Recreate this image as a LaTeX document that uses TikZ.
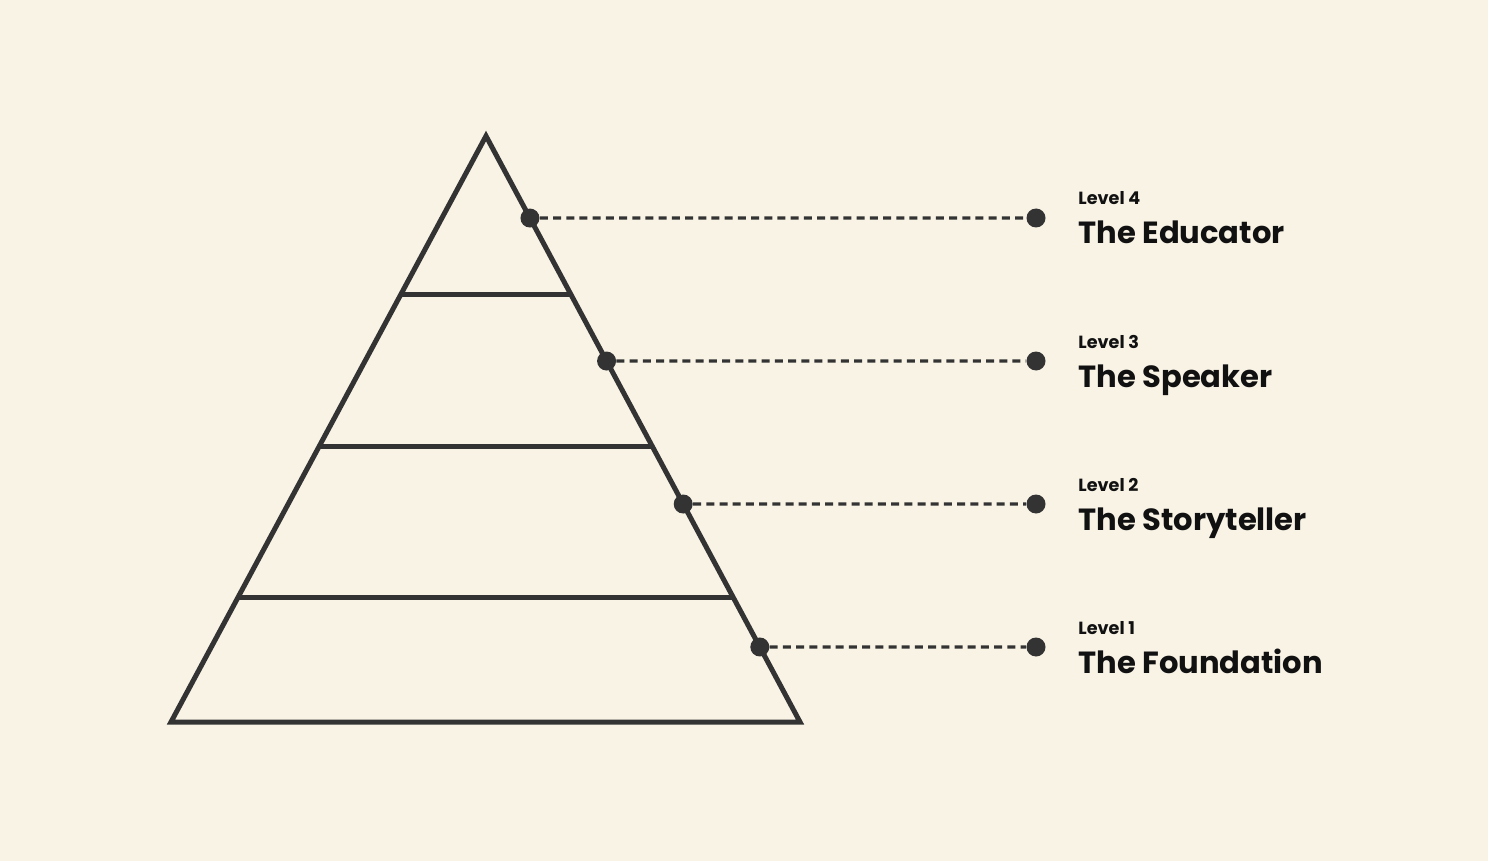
\documentclass[tikz,border=0pt]{standalone}
\usepackage{fontspec}
\setmainfont{Poppins}
\usepackage{tikz}
\usetikzlibrary{calc}
\definecolor{paper}{HTML}{F9F3E6}
\definecolor{ink}{HTML}{333333}
\definecolor{textdark}{HTML}{111111}

\begin{document}
\begin{tikzpicture}[
  x=0.5pt,y=-0.5pt,
  dot/.style={circle,fill=ink,inner sep=0pt,minimum size=9.5pt},
  leader/.style={ink,line width=1.6pt,dash pattern=on 4pt off 2.6pt},
  edge/.style={ink,line width=2.5pt},
  lvl/.style={anchor=base west,inner sep=0pt,text=textdark,font=\fontsize{8.8}{10}\selectfont\bfseries},
  ttl/.style={anchor=base west,inner sep=0pt,text=textdark,font=\fontsize{15.3}{18}\selectfont\bfseries}
]
\useasboundingbox[fill=paper] (0,0) rectangle (1488,861);
% pyramid outline
\coordinate (apex) at (486,136);
\coordinate (bl) at (171,722);
\coordinate (br) at (800,722);
\draw[edge,line join=miter] (apex) -- (bl) -- (br) -- cycle;
% tier lines
\draw[edge] ($(apex)!0.2713!(bl)$) -- ($(apex)!0.2713!(br)$);
\draw[edge] ($(apex)!0.5290!(bl)$) -- ($(apex)!0.5290!(br)$);
\draw[edge] ($(apex)!0.7867!(bl)$) -- ($(apex)!0.7867!(br)$);
% dots on the slope
\node[dot] (p4) at ($(apex)!0.1400!(br)$) {};
\node[dot] (p3) at ($(apex)!0.3840!(br)$) {};
\node[dot] (p2) at ($(apex)!0.6280!(br)$) {};
\node[dot] (p1) at ($(apex)!0.8720!(br)$) {};
\node[dot] (q4) at (1036,218) {};
\node[dot] (q3) at (1036,361) {};
\node[dot] (q2) at (1036,504) {};
\node[dot] (q1) at (1036,647) {};
\draw[leader] (p4) -- (q4);
\draw[leader] (p3) -- (q3);
\draw[leader] (p2) -- (q2);
\draw[leader] (p1) -- (q1);
% labels
\node[lvl] (l4) at (1078,205) {Level 4};
\node[ttl] (t4) at (1078,244) {The Educator};
\node[lvl] (l3) at (1078,348) {Level 3};
\node[ttl] (t3) at (1078,387) {The Speaker};
\node[lvl] (l2) at (1078,491) {Level 2};
\node[ttl] (t2) at (1078,530) {The Storyteller};
\node[lvl] (l1) at (1078,634) {Level 1};
\node[ttl] (t1) at (1078,673) {The Foundation};
\end{tikzpicture}
\end{document}
